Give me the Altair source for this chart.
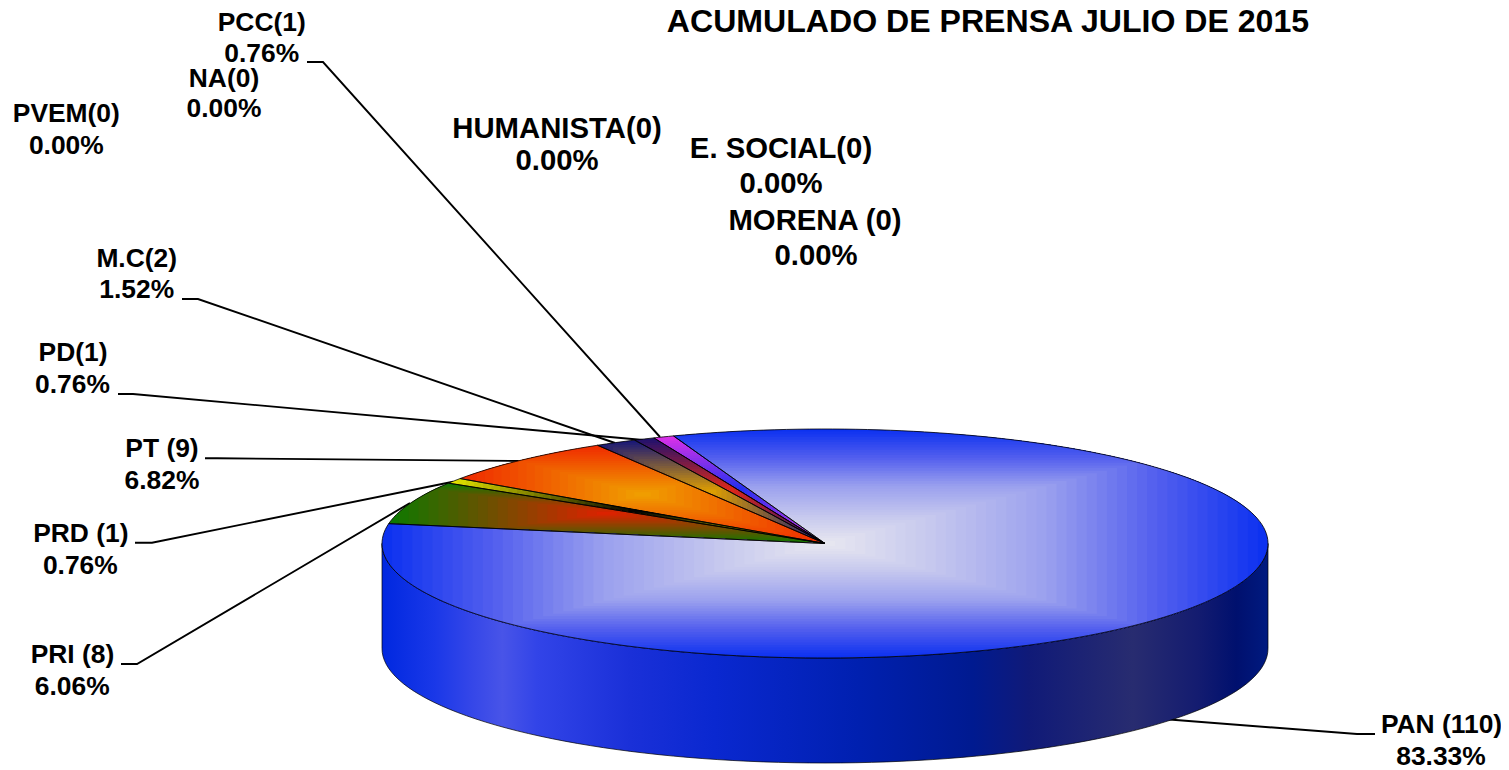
import math
import altair as alt

# ---- data ----
parties = ["PCC", "PD", "M.C", "PT", "PRD", "PRI", "PAN"]
counts = [1, 1, 2, 9, 1, 8, 110]
edge_colors = ["#E030E8", "#1C1070", "#14147A", "#F02800", "#E8E800", "#0A7A00", "#0A30F0"]
core_colors = ["#2030F0", "#E02818", "#E0A000", "#F0A000", "#000000", "#E02000", "#E8E8F0"]
pan_ramp = [(0, "#E8E8F0"), (0.25, "#C4C6EE"), (0.5, "#9AA0EE"), (0.75, "#525EEE"), (1, "#0A30F0")]
side_stops = [(0, "#0028E0"), (0.06, "#1A38E8"), (0.10, "#3446E8"), (0.136, "#4854E8"), (0.175, "#3244E8"), (0.28, "#1A30D8"),
              (0.375, "#0A28D0"), (0.537, "#0020B0"), (0.667, "#001A90"), (0.73, "#101A78"),
              (0.848, "#282C70"), (0.92, "#141C70"), (0.964, "#00106E"), (1, "#001A80")]

label_text = ["PCC(1)", "0.76%", "NA(0)", "0.00%", "PVEM(0)", "0.00%", "HUMANISTA(0)", "0.00%",
              "E. SOCIAL(0)", "0.00%", "MORENA (0)", "0.00%", "M.C(2)", "1.52%", "PD(1)", "0.76%",
              "PT (9)", "6.82%", "PRD (1)", "0.76%", "PRI (8)", "6.06%", "PAN (110)", "83.33%",
              "ACUMULADO DE PRENSA JULIO DE 2015"]
label_x = [261.7, 261.7, 224, 224, 66.3, 66.3, 557, 557, 781, 781, 815, 816, 136.7, 136.7, 73, 72.5,
           162, 162, 80.8, 80.3, 72.5, 72.2, 1441.5, 1441, 988]
label_y = [30.7, 61.7, 87, 117, 122.3, 154, 138, 170, 158, 193, 230, 265, 266.7, 298, 360.7, 393,
           456.7, 489, 541.7, 574.3, 662.7, 695, 733, 764.5, 32]
label_size = [26.4] * 6 + [29.3] * 6 + [26.4] * 12 + [32.1]

leader_id = [0, 0, 0, 1, 1, 1, 2, 2, 2, 3, 3, 3, 4, 4, 4, 5, 5, 5, 6, 6, 6]
leader_x = [307, 323, 660, 182, 198, 615, 118, 133, 643, 205, 217, 522, 135, 152, 453, 121, 137, 410, 1375, 1357, 1163]
leader_y = [62, 62, 437, 299, 299, 443, 394, 394, 440, 458.3, 458.3, 461, 542.7, 542.7, 481.7, 664, 664, 503, 734, 734, 719]

# ---- pie geometry ----
CX, CY, RX, RY, DEPTH = 825, 543.5, 443, 114.5, 105
START = 110
W, H = 1493, 762


def rim(t, dy=0):
    a = math.radians(t)
    return [CX + RX * math.cos(a), CY + dy - RY * math.sin(a)]


def sector(a0, a1):
    n = max(4, int((a1 - a0) / 1.5))
    return [[CX, CY]] + [rim(a0 + (a1 - a0) * i / n) for i in range(n + 1)]


def clip_half(poly, axis, limit, keep_low):
    out = []
    inside = lambda p: p[axis] <= limit if keep_low else p[axis] >= limit
    for i, p in enumerate(poly):
        q = poly[(i + 1) % len(poly)]
        if inside(p):
            out.append(p)
        if inside(p) != inside(q):
            f = (limit - p[axis]) / (q[axis] - p[axis])
            out.append([p[0] + f * (q[0] - p[0]), p[1] + f * (q[1] - p[1])])
    return out


def clip_rect(poly, x0, x1, y0, y1):
    for axis, limit, low in [(0, x0, False), (0, x1, True), (1, y0, False), (1, y1, True)]:
        poly = clip_half(poly, axis, limit, low)
        if not poly:
            break
    return poly


def rgb(h):
    return [int(h[i:i + 2], 16) for i in (1, 3, 5)]


def ramp_color(stops, t):
    for (t0, c0), (t1, c1) in zip(stops, stops[1:]):
        if t <= t1:
            f = (t - t0) / (t1 - t0)
            a, b = rgb(c0), rgb(c1)
            return "#%02x%02x%02x" % tuple(round(a[k] + f * (b[k] - a[k])) for k in range(3))
    return stops[-1][1]


def feature(coords, **props):
    ring = coords + [coords[0]]
    return {"type": "Feature", "properties": props, "geometry": {"type": "Polygon", "coordinates": [ring]}}


total = sum(counts)
bands, outlines = [], []
angle = START
for i, name in enumerate(parties):
    sweep = 360 * counts[i] / total
    poly = sector(angle, angle + sweep)
    angle += sweep
    xs, ys = [p[0] for p in poly], [p[1] for p in poly]
    mx, my = (min(xs) + max(xs)) / 2, (min(ys) + max(ys)) / 2
    hw, hh = (max(xs) - min(xs)) / 2, (max(ys) - min(ys)) / 2
    stops = pan_ramp if name == "PAN" else [(0, core_colors[i]), (1, edge_colors[i])]
    levels = 44 if name == "PAN" else 22
    for k in range(levels):
        s = 1 - k / levels
        piece = clip_rect(poly, mx - s * hw, mx + s * hw, my - s * hh, my + s * hh)
        if len(piece) >= 3:
            bands.append(feature(piece, c=ramp_color(stops, s - 0.5 / levels)))
    outlines.append(feature(poly, name=name))

side_poly = [rim(180 + 2 * i) for i in range(91)] + [rim(360 - 2 * i, DEPTH) for i in range(91)]
side_feature = feature(side_poly, name="side")

PROJ = dict(type="identity", scale=1, translate=[-8, -8])
x_enc = alt.X("x:Q", scale=alt.Scale(domain=[8, 8 + W], range=[0, W]), axis=None)
y_enc = alt.Y("y:Q", scale=alt.Scale(domain=[8, 8 + H], range=[H, 0], reverse=True), axis=None)

gradient = alt.LinearGradient(
    gradient="linear", x1=0, x2=1, y1=0, y2=0,
    stops=[alt.GradientStop(offset=o, color=c) for o, c in side_stops],
)

leaders = alt.Chart(alt.Data(values=[
    {"x": a, "y": b, "id": c, "o": n} for n, (a, b, c) in enumerate(zip(leader_x, leader_y, leader_id))
])).mark_line(color="#000000", strokeWidth=1.9).encode(x=x_enc, y=y_enc, detail="id:N", order="o:Q")

side = alt.Chart(alt.Data(values=[side_feature])).mark_geoshape(
    fill=gradient, stroke="#000000", strokeWidth=0.7
).project(**PROJ)

top = alt.Chart(alt.Data(values=bands)).mark_geoshape(strokeWidth=0).encode(
    fill=alt.Fill("properties.c:N", scale=None, legend=None)
).project(**PROJ)

edges = alt.Chart(alt.Data(values=outlines)).mark_geoshape(
    filled=False, stroke="#000000", strokeWidth=0.8
).project(**PROJ)

text = alt.Chart(alt.Data(values=[
    {"x": a, "y": b, "t": t, "s": s} for a, b, t, s in zip(label_x, label_y, label_text, label_size)
])).mark_text(font="Liberation Sans", fontWeight="bold", baseline="alphabetic", align="center", color="#000000").encode(
    x=x_enc, y=y_enc, text="t:N", size=alt.Size("s:Q", scale=None, legend=None)
)

chart = alt.layer(leaders, side, top, edges, text).properties(
    width=W, height=H, padding=0, autosize=alt.AutoSizeParams(type="none"), background="#FFFFFF"
).configure_view(stroke=None)

chart.save("out.html", embed_options={"renderer": "svg", "actions": False})
